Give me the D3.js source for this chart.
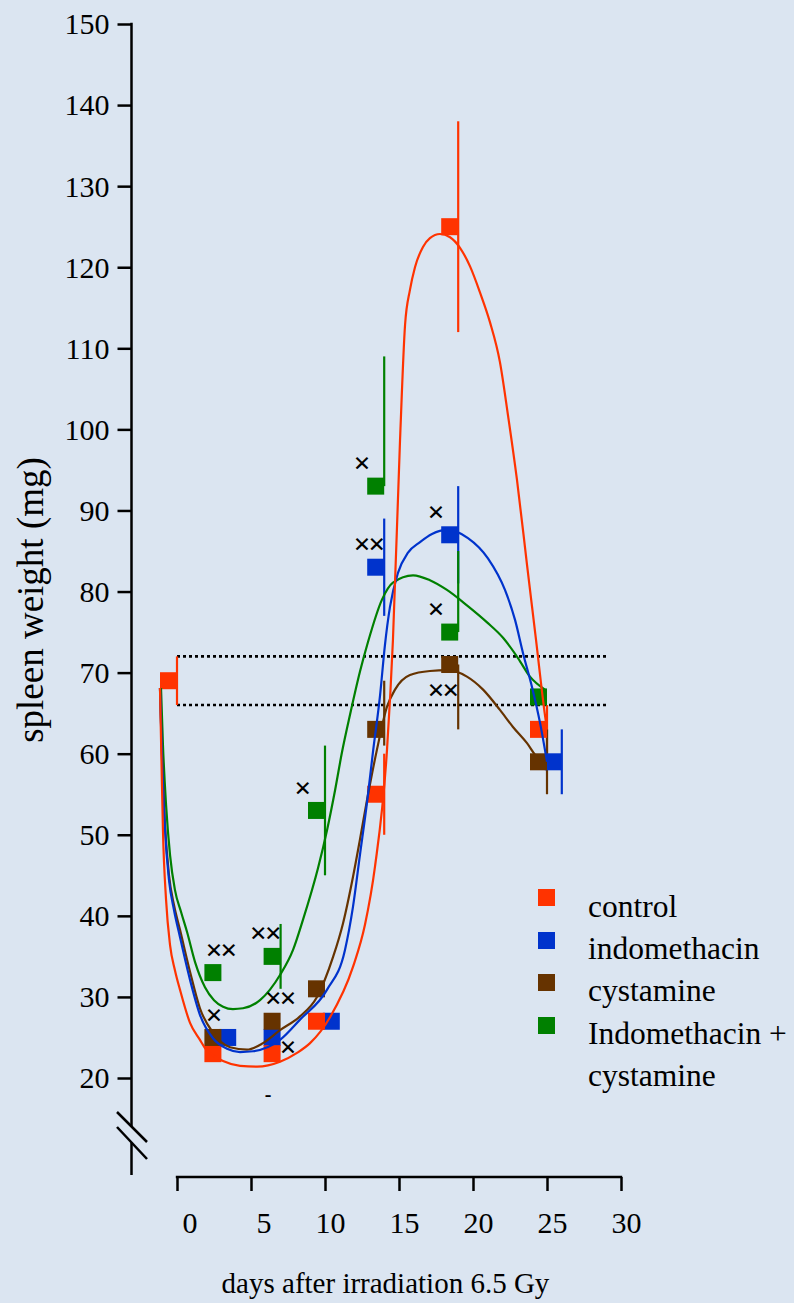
<!DOCTYPE html>
<html>
<head>
<meta charset="utf-8">
<script src="https://cdn.jsdelivr.net/npm/d3@7"></script>
<style>
  html, body { margin: 0; padding: 0; background: #dbe5f1; }
  svg { display: block; }
  text { font-family: "Liberation Serif", "Times New Roman", serif; fill: #000; }
</style>
</head>
<body>
<svg id="chart" width="794" height="1303"></svg>
<script>
// ---- data -------------------------------------------------------------
const xTicks = [0, 5, 10, 15, 20, 25, 30];
const yTicks = [20, 30, 40, 50, 60, 70, 80, 90, 100, 110, 120, 130, 140, 150];

const seriesNames = ["control", "indomethacin", "cystamine", "Indomethacin +"];
const seriesColors = ["#ff3300", "#0033cc", "#663300", "#008000"];

// group means (mg) with upper / lower error-bar ends
const controlDays = [0, 3, 7, 10, 14, 19, 25];
const controlMean = [69, 23, 23, 27, 55, 125, 63];
const controlHi   = [72, 23, 23, 27, 60, 138, 66];
const controlLo   = [66, 23, 23, 27, 50, 112, 60];

const indoDays = [4, 7, 11, 14, 19, 26];
const indoMean = [25, 25, 27, 83, 87, 59];
const indoHi   = [25, 25, 27, 89, 93, 63];
const indoLo   = [25, 25, 27, 77, 81, 55];

const cystDays = [3, 7, 10, 14, 19, 25];
const cystMean = [25, 27, 31, 63, 71, 59];
const cystHi   = [25, 27, 31, 69, 71, 63];
const cystLo   = [25, 27, 31, 61, 63, 55];

const comboDays = [3, 7, 10, 14, 19, 25];
const comboMean = [33, 35, 53, 93, 75, 67];
const comboHi   = [33, 39, 61, 109, 85, 67];
const comboLo   = [33, 31, 45, 93, 75, 67];

// fitted time courses [day, mg]
const controlFit = [[-1.15,68.1],[-1.05,59.2],[-0.95,50.6],[-0.74,42.0],[-0.47,36.4],[-0.14,33.3],
  [0.2,30.9],[0.88,26.8],[1.55,24.7],[1.89,23.7],[2.43,22.8],[3.11,22.1],[4.26,21.5],[5.41,21.4],
  [6.96,22.0],[8.11,23.1],[8.99,24.3],[10.34,27.5],[11.89,33.7],[12.7,38.9],[13.38,46.1],[14.19,60.5],
  [14.59,74.0],[15.07,98.7],[15.41,112.9],[15.74,117.2],[16.08,120.0],[16.62,122.5],[17.09,123.6],
  [17.77,124.1],[18.45,123.7],[19.12,122.4],[19.8,120.1],[20.47,116.9],[21.15,113.2],[21.82,108.3],
  [22.36,101.8],[22.97,93.8],[23.65,83.3],[24.26,74.0],[24.86,64.8],[25.0,63.0]];
const indoFit = [[-1.15,68.1],[-1.01,59.2],[-0.81,50.6],[-0.54,44.4],[-0.2,40.7],[0.2,37.4],[0.88,32.1],
  [1.55,27.8],[2.43,24.9],[3.38,23.6],[4.26,23.2],[5.14,23.3],[6.96,24.7],[8.31,27.2],[10.14,30.9],
  [11.35,35.8],[11.89,41.1],[12.36,47.5],[12.84,54.0],[13.24,60.2],[13.72,67.2],[14.05,73.4],[14.39,78.1],
  [14.93,82.3],[15.61,84.8],[16.42,86.1],[17.23,87.1],[18.24,87.6],[19.66,86.6],[21.01,84.1],[22.16,80.2],
  [22.84,76.5],[23.38,72.4],[23.99,68.2],[24.53,63.8],[25.0,59.0]];
const cystFit = [[-1.15,68.1],[-1.01,59.8],[-0.81,51.2],[-0.54,45.0],[-0.2,41.3],[0.2,38.3],[0.88,33.1],
  [1.55,28.6],[2.43,25.6],[3.58,23.8],[4.73,23.5],[5.81,24.3],[6.96,25.9],[8.31,27.6],[9.46,30.0],
  [10.54,34.9],[11.22,39.1],[11.89,44.8],[12.36,49.4],[12.84,54.3],[13.51,60.5],[14.19,65.8],[14.73,67.9],
  [15.74,69.7],[17.09,70.2],[18.31,70.3],[19.59,69.5],[20.68,67.9],[21.82,65.4],[22.7,63.3],[23.65,61.3],
  [24.32,59.6],[25.0,59.0]];
const comboFit = [[-1.08,68.1],[-0.95,61.1],[-0.74,53.7],[-0.47,47.5],[-0.14,43.2],[0.27,40.5],[0.68,38.0],
  [1.22,34.3],[1.89,31.2],[2.5,29.6],[3.11,28.8],[3.78,28.5],[4.46,28.6],[5.61,29.6],[6.96,32.7],
  [7.84,35.8],[8.51,39.5],[9.53,45.9],[10.14,50.6],[10.68,55.5],[11.15,60.2],[11.69,64.8],[12.36,70.1],
  [12.91,73.8],[13.85,79.0],[14.59,81.1],[15.95,82.0],[17.09,81.4],[18.24,80.2],[19.59,78.3],[20.95,76.2],
  [22.03,74.3],[23.04,71.8],[23.85,69.5],[24.86,67.9]];

// normal range of untreated mice (mg)
const normalRange = [66, 72];

// significance crosses [day, mg] and the single dash
const crossMarks = [[2.5,36],[3.5,36],[2.5,28],[5.5,38],[6.5,38],[6.5,30],[7.5,30],[7.5,24],
  [8.5,56],[12.5,96],[12.5,86],[13.5,86],[17.5,90],[17.5,78],[17.5,68],[18.5,68]];
const dashMarks = [[6.15,18]];

// ---- layout -----------------------------------------------------------
const svg = d3.select("#chart");
const x = d3.scaleLinear().domain([0, 30]).range([177, 621]);
const y = d3.scaleLinear().domain([20, 150]).range([1078, 24]);
const axisX = 131.5, axisBottom = 1175, xAxisY = 1177;
const box = 17;
const serif = "Liberation Serif, Times New Roman, serif";

svg.append("rect").attr("width", 794).attr("height", 1303).attr("fill", "#dbe5f1");

// y axis
const gy = svg.append("g").attr("transform", `translate(${axisX},0)`)
  .call(d3.axisLeft(y).tickValues(yTicks).tickSize(14).tickPadding(8).tickFormat(d3.format("d")));
gy.select(".domain").remove();
gy.selectAll(".tick line").attr("stroke", "#000").attr("stroke-width", 2.5);
gy.selectAll(".tick text").attr("font-size", 30).attr("dy", "0.33em").attr("font-family", serif);

// y axis line with a break below the lowest tick
const brk = [1126.5, 1142.5];
svg.append("line").attr("x1", axisX).attr("x2", axisX).attr("y1", y(150) - 1.2).attr("y2", brk[0])
  .attr("stroke", "#000").attr("stroke-width", 2.5);
svg.append("line").attr("x1", axisX).attr("x2", axisX).attr("y1", brk[1]).attr("y2", axisBottom)
  .attr("stroke", "#000").attr("stroke-width", 2.5);
svg.append("line").attr("x1", 117).attr("y1", 1112).attr("x2", 147).attr("y2", 1142)
  .attr("stroke", "#000").attr("stroke-width", 2.5);
svg.append("line").attr("x1", 117).attr("y1", 1127).attr("x2", 147).attr("y2", 1159)
  .attr("stroke", "#000").attr("stroke-width", 2.5);

// x axis
const gx = svg.append("g").attr("transform", `translate(0,${xAxisY})`)
  .call(d3.axisBottom(x).tickValues(xTicks).tickSize(14).tickSizeOuter(0));
gx.select(".domain").remove();
gx.selectAll(".tick line").attr("stroke", "#000").attr("stroke-width", 2.5);
gx.selectAll(".tick text").attr("font-size", 30).attr("text-anchor", "end")
  .attr("x", 20).attr("y", 56).attr("dy", 0).attr("font-family", serif);
svg.append("line").attr("x1", x(0) - 1.2).attr("x2", x(30) + 1.2).attr("y1", xAxisY).attr("y2", xAxisY)
  .attr("stroke", "#000").attr("stroke-width", 2.5);

// axis titles
svg.append("text").attr("transform", "translate(43,600) rotate(-90)")
  .attr("text-anchor", "middle").attr("font-size", 37).text("spleen weight (mg)");
svg.append("text").attr("x", 385.5).attr("y", 1293)
  .attr("text-anchor", "middle").attr("font-size", 29).text("days after irradiation 6.5 Gy");

// normal range
svg.selectAll("line.normal").data(normalRange).join("line").attr("class", "normal")
  .attr("x1", x(0)).attr("x2", x(29)).attr("y1", d => y(d)).attr("y2", d => y(d))
  .attr("stroke", "#000").attr("stroke-width", 2.6).attr("stroke-dasharray", "3,3");

// ---- series -----------------------------------------------------------
const groups = [
  { days: controlDays, mean: controlMean, hi: controlHi, lo: controlLo, fit: controlFit, color: seriesColors[0] },
  { days: indoDays, mean: indoMean, hi: indoHi, lo: indoLo, fit: indoFit, color: seriesColors[1] },
  { days: cystDays, mean: cystMean, hi: cystHi, lo: cystLo, fit: cystFit, color: seriesColors[2] },
  { days: comboDays, mean: comboMean, hi: comboHi, lo: comboLo, fit: comboFit, color: seriesColors[3] }
];

// error bars sit on the day line; the square marker sits just to its left
groups.forEach(g => {
  const bars = g.days.map((d, i) => ({ d, hi: g.hi[i], lo: g.lo[i] })).filter(b => b.hi !== b.lo);
  svg.append("g").selectAll("line").data(bars).join("line")
    .attr("x1", b => x(b.d)).attr("x2", b => x(b.d))
    .attr("y1", b => y(b.hi)).attr("y2", b => y(b.lo))
    .attr("stroke", g.color).attr("stroke-width", 2.2);
});

const markerOrder = [1, 0, 2, 3];
markerOrder.forEach(k => {
  const g = groups[k];
  svg.append("g").selectAll("rect").data(g.days.map((d, i) => [d, g.mean[i]])).join("rect")
    .attr("x", p => x(p[0]) - box).attr("y", p => y(p[1]) - box / 2)
    .attr("width", box).attr("height", box).attr("fill", g.color);
});

const line = d3.line().x(p => x(p[0])).y(p => y(p[1])).curve(d3.curveMonotoneX);
[3, 2, 1, 0].forEach(k => {
  svg.append("path").attr("d", line(groups[k].fit)).attr("fill", "none")
    .attr("stroke", groups[k].color).attr("stroke-width", 2.2).attr("stroke-linejoin", "round");
});

// significance marks
svg.append("g").selectAll("text").data(crossMarks).join("text")
  .attr("x", p => x(p[0])).attr("y", p => y(p[1])).attr("dy", "0.38em")
  .attr("text-anchor", "middle").attr("font-size", 30).attr("font-weight", "bold")
  .attr("font-family", "DejaVu Sans, sans-serif").text("×");
svg.append("g").selectAll("text").data(dashMarks).join("text")
  .attr("x", p => x(p[0])).attr("y", p => y(p[1]) + 7)
  .attr("text-anchor", "middle").attr("font-size", 20).attr("font-weight", "bold")
  .attr("font-family", "DejaVu Sans, sans-serif").text("-");

// ---- legend -----------------------------------------------------------
const legendTop = [889, 932, 974, 1017];
const legendBase = [917, 959, 1001, 1044];
const lg = svg.append("g");
seriesNames.forEach((name, i) => {
  lg.append("rect").attr("x", 538).attr("y", legendTop[i]).attr("width", box).attr("height", box)
    .attr("fill", seriesColors[i]);
  lg.append("text").attr("x", 588).attr("y", legendBase[i]).attr("font-size", 31.5).text(name);
});
lg.append("text").attr("x", 588).attr("y", 1086).attr("font-size", 31.5).text("cystamine");
</script>
</body>
</html>
